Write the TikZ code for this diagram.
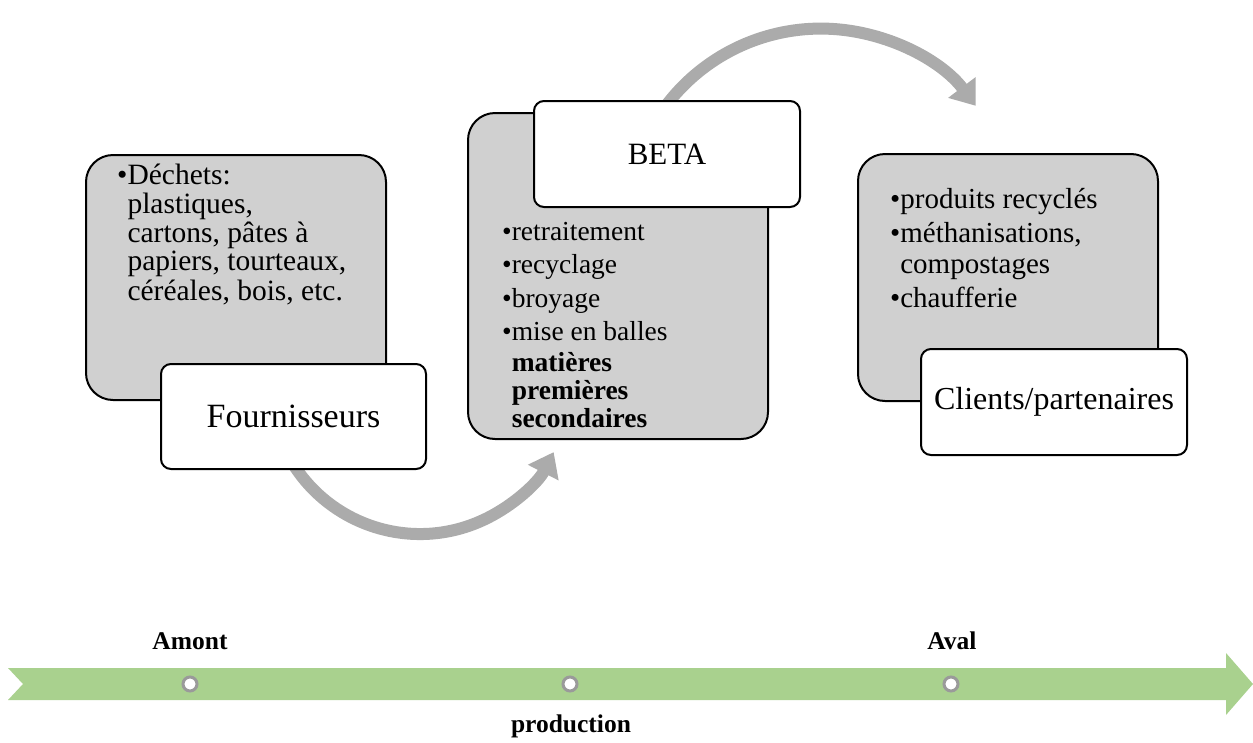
\documentclass[tikz,border=0pt]{standalone}
\usepackage{fontspec}
\setmainfont{Liberation Serif}
\usetikzlibrary{arrows.meta}
\definecolor{boxgray}{HTML}{D0D0D0}
\definecolor{arrgray}{HTML}{ABABAB}
\definecolor{bandgreen}{HTML}{A9D18E}
\definecolor{dotgray}{HTML}{9A9A9A}
\newcommand{\blt}{•}
\begin{document}
\begin{tikzpicture}[x=1pt,y=-1pt,
  graybox/.style={draw=black, line width=2pt, fill=boxgray, rounded corners=27pt, anchor=north west, inner sep=0pt},
  whitebox/.style={draw=black, line width=2pt, fill=white, rounded corners=10pt, anchor=north west, inner sep=0pt},
  titletext/.style={inner sep=0pt},
  bodytext/.style={inner sep=0pt, anchor=base west},
  flowarrow/.style={draw=arrgray, line width=12pt, -{Triangle[width=33pt,length=23pt]}},
  dot/.style={circle, draw=dotgray, line width=3pt, fill=white, minimum size=14pt, inner sep=0pt},
  lab/.style={font=\fontsize{25.5}{28}\selectfont\bfseries, inner sep=0pt}
]
\useasboundingbox (0,0) rectangle (1253,742);

% curved arrows (behind boxes)
\coordinate (a1s) at (284.05,447.4);
\coordinate (a2s) at (661.9,111.3);
\draw[flowarrow] (a1s) arc[start angle=155, end angle=27, radius=150];
\draw[flowarrow] (a2s) arc[start angle=-145, end angle=-37, radius=194];

% box 1
\node[graybox, minimum width=300pt, minimum height=245pt] (g1) at (85,154) {};
\node[bodytext, font=\fontsize{29.5}{28.75}\selectfont] (t1) at (117,184) {\begin{tabular}[t]{@{}l@{}l@{}}
\blt & Déchets:\\
 & plastiques,\\
 & cartons, pâtes à\\
 & papiers, tourteaux,\\
 & céréales, bois, etc.
\end{tabular}};
\node[whitebox, minimum width=265pt, minimum height=105pt] (w1) at (160,363) {};
\node[titletext, font=\fontsize{34}{38}\selectfont] (f1) at (w1.center) {Fournisseurs};

% box 2
\node[graybox, minimum width=300pt, minimum height=326pt] (g2) at (467,112) {};
\node[bodytext, font=\fontsize{27.5}{28}\selectfont] (t2) at (502,240) {\begin{tabular}[t]{@{}l@{}l@{}}
\blt & retraitement\\[5.5pt]
\blt & recyclage\\[5.5pt]
\blt & broyage\\[5.5pt]
\blt & mise en balles\\[3pt]
 & \textbf{matières}\\
 & \textbf{premières}\\
 & \textbf{secondaires}
\end{tabular}};
\node[whitebox, minimum width=266pt, minimum height=106pt] (w2) at (533,100) {};
\node[titletext, font=\fontsize{31}{36}\selectfont] (f2) at (w2.center) {BETA};

% box 3
\node[graybox, minimum width=300pt, minimum height=247pt] (g3) at (857,153) {};
\node[bodytext, font=\fontsize{29}{31}\selectfont] (t3) at (890,208) {\begin{tabular}[t]{@{}l@{}l@{}}
\blt & produits recyclés\\[3pt]
\blt & méthanisations,\\
 & compostages\\[3pt]
\blt & chaufferie
\end{tabular}};
\node[whitebox, minimum width=266pt, minimum height=106pt] (w3) at (920,348) {};
\node[titletext, font=\fontsize{32}{36}\selectfont] (f3) at (w3.center) {Clients/partenaires};

% timeline band
\fill[bandgreen] (8,668) -- (1226,668) -- (1226,653) -- (1253,684) -- (1226,715) -- (1226,700) -- (8,700) -- (23,684) -- cycle;
\node[dot] (d1) at (190,684) {};
\node[dot] (d2) at (570,684) {};
\node[dot] (d3) at (951,684) {};
\node[lab] (amont) at (190,641) {Amont};
\node[lab] (aval) at (952,641) {Aval};
\node[lab] (prod) at (571,726) {production};
\end{tikzpicture}
\end{document}
